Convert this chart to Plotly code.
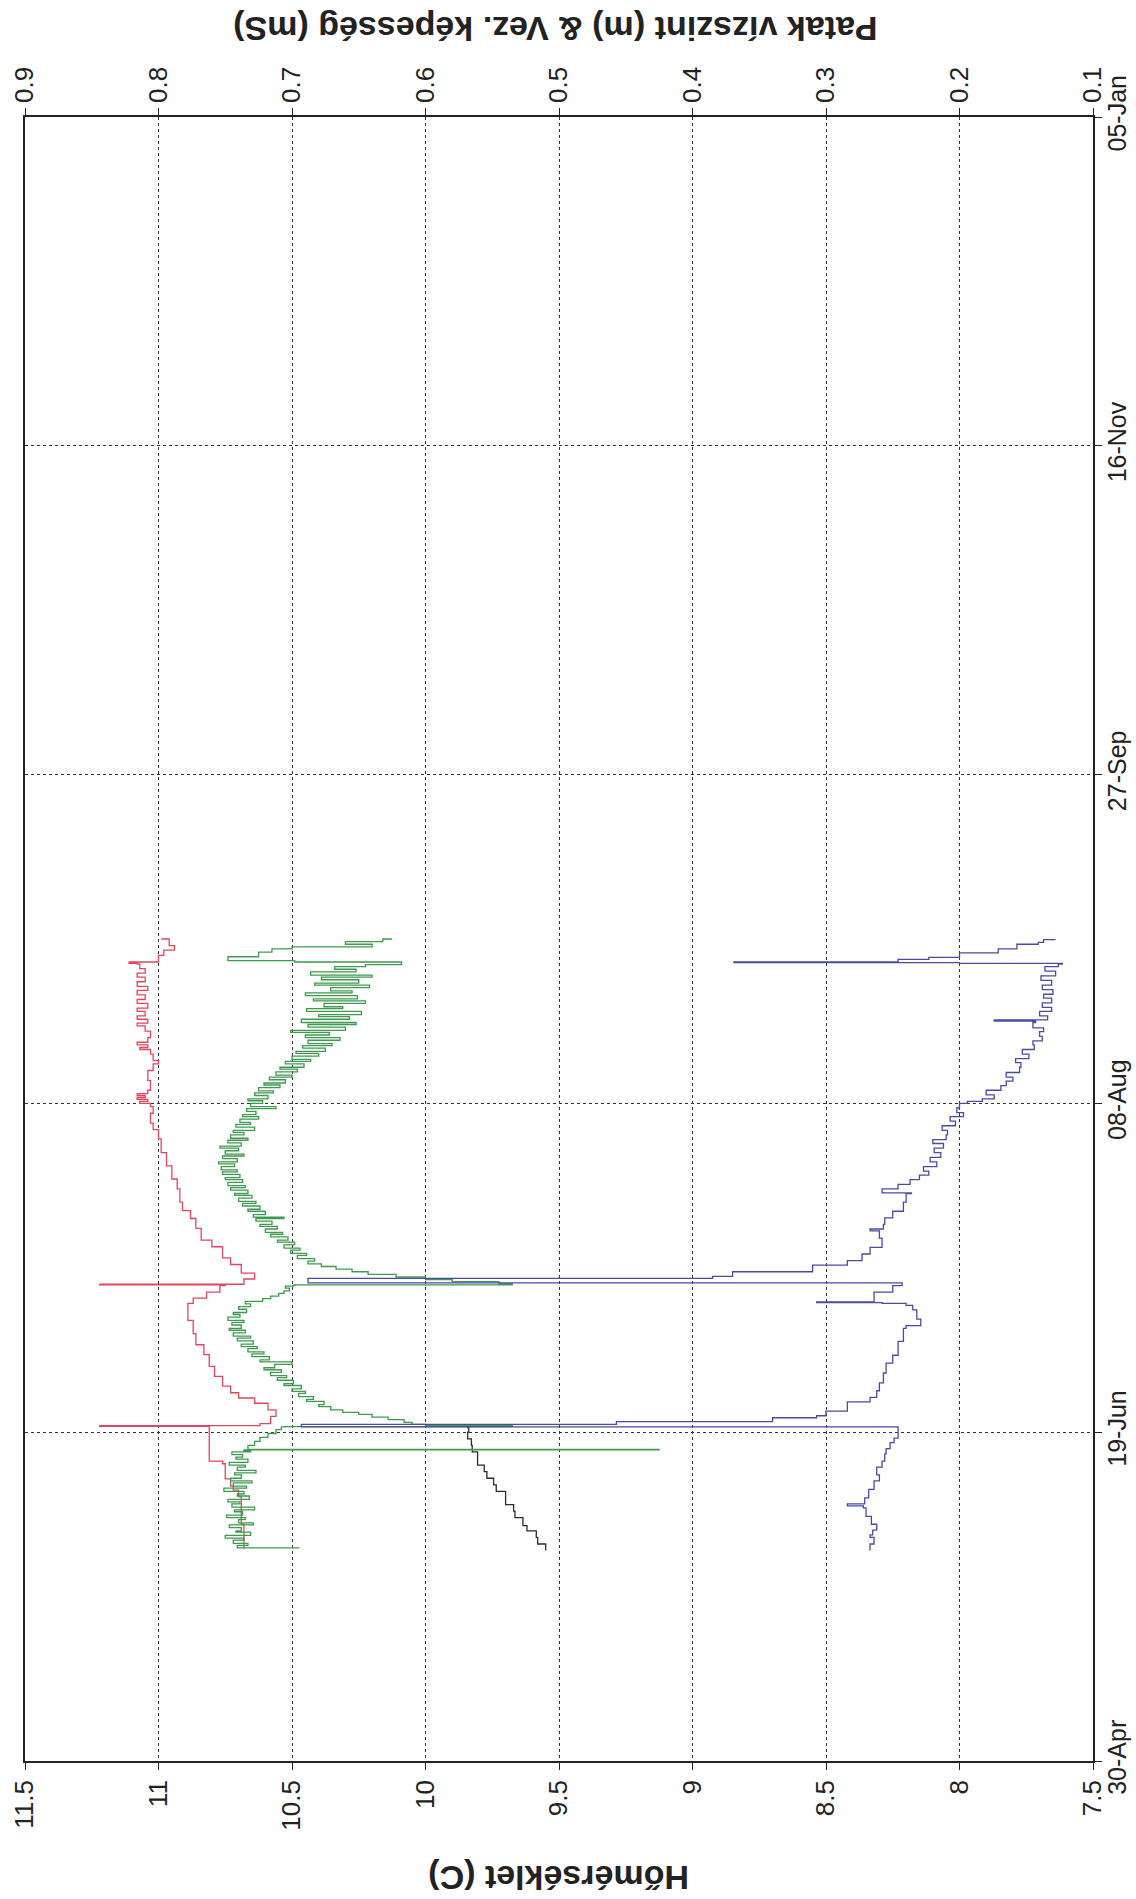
import pandas as pd
import plotly.graph_objects as go

# ---- time base: day offsets counted from 30-Apr ----
START = pd.Timestamp("2003-04-30")
END = pd.Timestamp("2004-01-05")

date_ticks = ["2003-04-30", "2003-06-19", "2003-08-08", "2003-09-27", "2003-11-16", "2004-01-05"]
date_labels = ["30-Apr", "19-Jun", "08-Aug", "27-Sep", "16-Nov", "05-Jan"]

temp_ticks = [7.5, 8, 8.5, 9, 9.5, 10, 10.5, 11, 11.5]
temp_labels = ["7.5", "8", "8.5", "9", "9.5", "10", "10.5", "11", "11.5"]

right_ticks = [0.1, 0.2, 0.3, 0.4, 0.5, 0.6, 0.7, 0.8, 0.9]
right_labels = ["0.1", "0.2", "0.3", "0.4", "0.5", "0.6", "0.7", "0.8", "0.9"]

# ---- water temperature (°C) ----
red_day = [32.3, 36.0, 40.1, 40.2, 41.2, 41.8, 42.9, 45.2, 45.6, 50.85, 50.9, 51.0, 51.3,
           52.4, 53.4, 54.4, 55.2, 56.0, 57.0, 58.5, 60.0, 61.8, 63.3, 65.0, 67.0, 68.7,
           69.6, 70.4, 71.3, 72.3, 72.4, 72.5, 73.3, 74.2, 75.5, 76.5, 78.2, 79.2, 81.0,
           82.5, 83.7, 85.0, 87.0, 88.5, 90.5, 92.5, 94.6, 96.0, 97.0, 98.5, 99.5, 100.0,
           100.3, 100.6, 100.9, 101.2, 101.5, 102.0, 103.5, 105.0, 106.0, 106.5, 107.5,
           108.2, 108.5, 108.9, 109.3, 110.0, 111.0, 111.8, 112.2, 112.8, 113.3, 114.0,
           114.5, 115.2, 115.8, 116.5, 117.2, 117.8, 118.5, 119.2, 119.8, 120.5, 121.2,
           121.3, 121.5, 122.5, 123.3, 124.0, 125.0]
red_val = [10.68, 10.69, 10.69, 10.70, 10.72, 10.73, 10.75, 10.76, 10.81, 10.81, 11.22, 10.62, 10.58,
           10.56, 10.59, 10.64, 10.70, 10.73, 10.76, 10.79, 10.81, 10.83, 10.86, 10.87, 10.89, 10.89,
           10.87, 10.82, 10.77, 10.75, 11.22, 10.68, 10.64, 10.69, 10.73, 10.76, 10.80, 10.84, 10.86,
           10.88, 10.91, 10.92, 10.93, 10.95, 10.97, 10.99, 11.00, 11.02, 11.03, 11.02, 11.03, 11.07,
           11.04, 11.08, 11.05, 11.08, 11.04, 11.03, 11.04, 11.02, 11.00, 11.02, 11.03,
           11.07, 11.04, 11.08, 11.04, 11.03, 11.05, 11.08, 11.04, 11.08, 11.05, 11.08,
           11.04, 11.08, 11.05, 11.08, 11.04, 11.08, 11.05, 11.08, 11.05, 11.07, 11.08,
           11.11, 11.00, 10.98, 10.94, 10.96, 10.99]

# ---- second temperature record (°C) ----
black_day = [32.0, 33.0, 34.0, 35.0, 35.8, 37.0, 38.0, 39.0, 40.0, 41.0, 42.0, 43.0,
             44.0, 45.0, 46.0, 47.0, 48.0, 49.0, 50.0, 50.7]
black_val = [9.55, 9.58, 9.585, 9.62, 9.635, 9.665, 9.67, 9.70, 9.70, 9.735, 9.745, 9.77,
             9.78, 9.805, 9.805, 9.825, 9.828, 9.842, 9.838, 9.845]

# ---- conductivity (mS) ----
green_day = [
    # before the first flood
    32.3, 32.4, 32.8, 33.1, 33.6, 33.9, 34.3, 34.8, 35.0, 35.5, 35.9, 36.2, 36.7, 37.0,
    37.4, 37.9, 38.2, 38.6, 39.1, 39.4, 39.8, 40.3, 40.6, 41.0, 41.5, 41.8, 42.3, 42.6,
    43.0, 43.5, 43.8, 44.2, 44.7, 45.0, 45.4, 45.9, 46.2, 46.6, 47.0, 47.2,
    47.3, 47.4, 48.0, 48.6, 49.2, 49.8, 50.4, 50.8,
    # first flood and recovery
    50.85, 51.0, 51.2, 51.5, 51.9, 52.3, 52.7, 53.0, 53.4, 53.9, 54.2, 54.7, 55.0, 55.4,
    55.9, 56.2, 56.6, 57.1, 57.4, 57.9, 58.3, 58.6, 59.1, 59.5, 59.8, 60.3, 60.7, 61.0,
    61.5, 61.9, 62.2, 62.7, 63.0, 63.4, 63.9, 64.3, 64.6, 65.1, 65.5, 65.8, 66.3, 66.7,
    67.0, 67.5, 67.9, 68.2, 68.7, 69.1, 69.5, 69.9, 70.3, 70.7, 71.1, 71.5, 71.9, 72.2, 72.35,
    # second flood and recovery
    72.4, 72.6, 72.9, 73.2, 73.6, 74.0, 74.4, 74.8, 75.2, 75.6,
    76.0, 76.4, 76.9, 77.2, 77.7, 78.0, 78.5, 78.9, 79.2, 79.7,
    80.1, 80.4, 80.9, 81.3, 81.6, 82.1, 82.5, 82.7, 83.1, 83.6,
    83.9, 84.4, 84.8, 85.1, 85.6, 86.0, 86.3, 86.8, 87.2, 87.5,
    88.0, 88.4, 88.7, 89.2, 89.6, 89.9, 90.4, 90.8, 91.1, 91.6,
    92.0, 92.3, 92.8, 93.2, 93.5, 94.0, 94.4, 94.7, 95.2, 95.6,
    95.9, 96.4, 96.8, 97.1, 97.6, 98.0, 98.3, 98.8, 99.2, 99.5,
    100.0, 100.4, 100.7, 101.2, 101.6, 101.9, 102.4, 102.8, 103.1, 103.6,
    104.0, 104.3, 104.8, 105.2, 105.5, 106.0, 106.4, 106.7, 107.2, 107.6,
    107.9, 108.4, 108.8, 109.1, 109.6, 110.0,
    # late summer
    110.4, 110.8, 111.1, 111.6, 112.0, 112.3, 112.8, 113.2, 113.5, 114.0,
    114.4, 114.7, 115.2, 115.6, 115.9, 116.4, 116.8, 117.1, 117.6, 118.0,
    118.3, 118.8, 119.2, 119.5, 120.0, 120.4, 120.8, 121.1, 121.5, 121.7,
    122.3, 123.0, 123.5, 123.8, 124.2, 124.6, 125.0,
]
green_val = [
    0.695, 0.741, 0.733, 0.744, 0.736, 0.750, 0.731, 0.742, 0.738, 0.747, 0.729, 0.740, 0.735, 0.749,
    0.737, 0.743, 0.728, 0.745, 0.739, 0.748, 0.732, 0.741, 0.736, 0.751, 0.734, 0.744, 0.730, 0.746,
    0.738, 0.743, 0.727, 0.741, 0.735, 0.747, 0.733, 0.742, 0.737, 0.745, 0.731, 0.736,
    0.425, 0.733, 0.728, 0.724, 0.718, 0.712, 0.708, 0.705,
    0.535, 0.600, 0.610, 0.616, 0.628, 0.640, 0.650, 0.662, 0.671, 0.680, 0.676, 0.689, 0.684, 0.695,
    0.690, 0.700, 0.693, 0.706, 0.699, 0.711, 0.704, 0.716, 0.708, 0.721, 0.713, 0.700, 0.724, 0.717,
    0.730, 0.721, 0.733, 0.726, 0.738, 0.729, 0.741, 0.731, 0.744, 0.735, 0.747, 0.738, 0.745, 0.736,
    0.748, 0.739, 0.744, 0.734, 0.740, 0.731, 0.735, 0.722, 0.716, 0.710, 0.706, 0.702, 0.705, 0.699, 0.698,
    0.535, 0.545, 0.580, 0.600, 0.622, 0.643, 0.655, 0.667, 0.678, 0.688,
    0.683, 0.696, 0.689, 0.701, 0.694, 0.706, 0.698, 0.711, 0.703, 0.716,
    0.707, 0.720, 0.711, 0.724, 0.715, 0.727, 0.706, 0.729, 0.720, 0.733,
    0.724, 0.737, 0.727, 0.740, 0.730, 0.743, 0.733, 0.746, 0.735, 0.748,
    0.737, 0.750, 0.739, 0.752, 0.741, 0.753, 0.743, 0.755, 0.741, 0.752,
    0.736, 0.750, 0.740, 0.754, 0.738, 0.748, 0.733, 0.746, 0.736, 0.744,
    0.728, 0.742, 0.731, 0.739, 0.725, 0.737, 0.727, 0.734, 0.712, 0.731,
    0.722, 0.733, 0.718, 0.728, 0.714, 0.725, 0.709, 0.721, 0.705, 0.717,
    0.700, 0.712, 0.696, 0.709, 0.691, 0.705, 0.686, 0.700, 0.680, 0.697,
    0.675, 0.692, 0.670, 0.688, 0.664, 0.690,
    0.672, 0.701, 0.660, 0.688, 0.652, 0.693, 0.657, 0.680, 0.648, 0.689,
    0.662, 0.676, 0.645, 0.684, 0.651, 0.690, 0.655, 0.671, 0.642, 0.683,
    0.650, 0.678, 0.640, 0.686, 0.652, 0.668, 0.645, 0.618, 0.698, 0.748,
    0.725, 0.715, 0.700, 0.640, 0.660, 0.632, 0.625,
]

# ---- stream water level (m) ----
blue_day = [32.0, 33.0, 34.0, 34.4, 35.1, 36.0, 37.2, 38.5, 38.8, 39.1, 40.0, 41.3, 42.6, 43.5,
            44.7, 45.6, 46.7, 47.5, 48.4, 49.1, 50.5, 50.8, 51.2, 51.6, 52.2, 52.5, 53.2, 54.6,
            55.3, 56.3, 57.5, 59.0, 60.5, 61.7, 63.8, 65.8, 66.2, 67.2, 68.6, 69.3, 69.6, 69.7,
            69.8, 71.3, 72.3, 72.7, 73.4, 73.7, 74.4, 75.4, 76.1, 77.1, 78.1, 79.5, 80.6, 80.9,
            81.6, 82.6, 83.6, 85.0, 86.3, 86.4, 87.0, 87.7, 88.4, 89.1, 89.7, 90.4, 91.1, 91.8,
            92.5, 93.2, 93.9, 94.5, 95.2, 95.9, 96.6, 97.3, 98.0, 98.6, 99.3, 100.0, 100.3, 100.7,
            101.3, 102.0, 102.7, 103.4, 104.0, 104.7, 105.5, 106.2, 106.8, 107.5, 108.2, 108.9,
            109.5, 110.2, 110.9, 111.5, 112.3, 112.5, 112.7, 113.3, 114.0, 114.6, 115.3, 116.0,
            116.6, 117.3, 118.0, 118.7, 119.4, 120.1, 120.8, 121.2, 121.3, 121.4, 121.5, 121.9,
            122.2, 122.9, 123.5, 124.2, 124.5, 124.9]
blue_val = [0.267, 0.264, 0.267, 0.265, 0.262, 0.266, 0.270, 0.272, 0.284, 0.271, 0.268, 0.264, 0.260, 0.262,
            0.258, 0.256, 0.255, 0.252, 0.249, 0.246, 0.246, 0.693, 0.457, 0.340, 0.307, 0.300, 0.284, 0.267,
            0.262, 0.260, 0.257, 0.255, 0.250, 0.246, 0.242, 0.240, 0.229, 0.232, 0.235, 0.240, 0.258, 0.307,
            0.264, 0.250, 0.243, 0.688, 0.385, 0.370, 0.310, 0.284, 0.273, 0.267, 0.258, 0.260, 0.267, 0.257,
            0.256, 0.250, 0.242, 0.240, 0.236, 0.258, 0.246, 0.237, 0.230, 0.223, 0.227, 0.217, 0.222, 0.214,
            0.219, 0.212, 0.220, 0.210, 0.209, 0.213, 0.203, 0.207, 0.197, 0.202, 0.200, 0.194, 0.183, 0.174,
            0.180, 0.169, 0.165, 0.160, 0.165, 0.155, 0.154, 0.158, 0.148, 0.153, 0.144, 0.145,
            0.138, 0.140, 0.137, 0.145, 0.143, 0.174, 0.134, 0.140, 0.131, 0.138, 0.131, 0.137,
            0.130, 0.138, 0.131, 0.139, 0.128, 0.136, 0.126, 0.123, 0.200, 0.369, 0.246, 0.223,
            0.200, 0.171, 0.157, 0.141, 0.137, 0.128]


def to_dates(days):
    return START + pd.to_timedelta(days, unit="D")


FONT = "Liberation Sans, Arial, Helvetica, sans-serif"

fig = go.Figure()

fig.add_trace(go.Scatter(x=black_val, y=to_dates(black_day), mode="lines", line_shape="vh",
                         line=dict(color="#2b2b2b", width=1.3), xaxis="x", yaxis="y",
                         name="Hőmérséklet 2"))
fig.add_trace(go.Scatter(x=red_val, y=to_dates(red_day), mode="lines", line_shape="vh",
                         line=dict(color="#e0475e", width=1.3), xaxis="x", yaxis="y",
                         name="Hőmérséklet"))
fig.add_trace(go.Scatter(x=green_val, y=to_dates(green_day), mode="lines", line_shape="vh",
                         line=dict(color="#3d9a4e", width=1.3), xaxis="x2", yaxis="y",
                         name="Vez. képesség"))
fig.add_trace(go.Scatter(x=blue_val, y=to_dates(blue_day), mode="lines", line_shape="vh",
                         line=dict(color="#4a4ba0", width=1.3), xaxis="x2", yaxis="y",
                         name="Patak vízszint"))

axis_common = dict(
    ticks="outside", ticklen=7, tickwidth=1.3, tickcolor="#222",
    showline=True, linecolor="#222", linewidth=1.5,
    zeroline=False, automargin=False, tickangle=-90,
)

fig.update_layout(
    width=1136, height=1899,
    margin=dict(l=25, r=43, t=117, b=138),
    paper_bgcolor="white", plot_bgcolor="white",
    showlegend=False,
    font=dict(family=FONT),
    xaxis=dict(
        range=[11.5, 7.5], tickmode="array", tickvals=temp_ticks, ticktext=temp_labels,
        side="bottom", anchor="y",
        showgrid=True, gridcolor="#333", griddash="dot", gridwidth=1.2,
        tickfont=dict(family=FONT, size=26, color="#222"),
        **axis_common,
    ),
    xaxis2=dict(
        range=[0.9, 0.1], tickmode="array", tickvals=right_ticks, ticktext=right_labels,
        side="top", overlaying="x", anchor="y", showgrid=False,
        tickfont=dict(family=FONT, size=26, color="#222"),
        **axis_common,
    ),
    yaxis=dict(
        type="date", range=[START, END], tickmode="array",
        tickvals=date_ticks, ticktext=date_labels,
        side="right", mirror=True, ticklabelstandoff=-6,
        showgrid=True, gridcolor="#333", griddash="dot", gridwidth=1.2,
        tickfont=dict(family=FONT, size=25, color="#222"),
        **axis_common,
    ),
    annotations=[
        dict(text="<b>Hőmérséklet (C)</b>", xref="paper", yref="paper",
             x=0.5, y=-0.0712, xanchor="center", yanchor="middle", textangle=180,
             showarrow=False, font=dict(family=FONT, size=34, color="#222")),
        dict(text="<b>Patak vízszint (m) &amp; Vez. képesség (mS)</b>", xref="paper", yref="paper",
             x=0.497, y=1.0535, xanchor="center", yanchor="middle", textangle=180,
             showarrow=False, font=dict(family=FONT, size=34, color="#222")),
    ],
)

fig.write_html("out.html")
